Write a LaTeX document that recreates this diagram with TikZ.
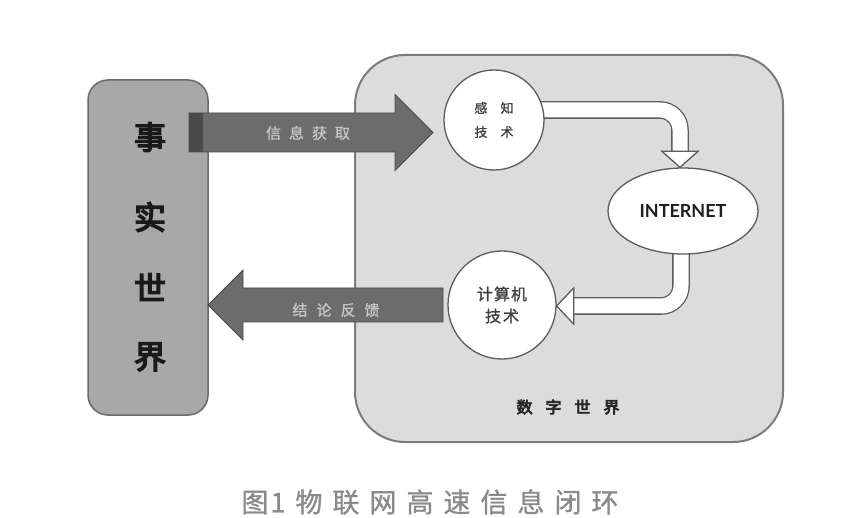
\documentclass[tikz,border=0pt]{standalone}
\usepackage{fontspec}
\usetikzlibrary{calc,backgrounds,shapes.geometric}
\newfontfamily\cjk{Noto Sans CJK SC}
\newfontfamily\cjkbold[FakeBold=2.5]{Noto Sans CJK SC}
\newfontfamily\cjkheavy[FakeBold=4.5]{Noto Sans CJK SC}
\newfontfamily\cjkmed[FakeBold=1]{Noto Sans CJK SC}
\newfontfamily\latin{Lato}

\definecolor{realfill}{HTML}{A8A8A8}
\definecolor{realedge}{HTML}{6A6A6A}
\definecolor{digifill}{HTML}{DCDCDC}
\definecolor{digiedge}{HTML}{7C7C7C}
\definecolor{arrowfill}{HTML}{6C6C6C}
\definecolor{arrowedge}{HTML}{4A4A4A}
\definecolor{arrowtext}{HTML}{C6C6C6}
\definecolor{flowedge}{HTML}{5C5C5C}
\definecolor{captiongray}{HTML}{8A8A8A}

\begin{document}
\begin{tikzpicture}[x=1pt,y=-1pt,
  realbox/.style={draw=realedge, fill=realfill, line width=1.5pt, rounded corners=20pt,
    minimum width=120pt, minimum height=335pt, inner sep=0pt},
  digibox/.style={draw=digiedge, fill=digifill, line width=2pt, rounded corners=50pt,
    minimum width=428pt, minimum height=387pt, inner sep=0pt},
  realchar/.style={font=\cjkheavy\fontsize{32}{32}\selectfont, text=black!90},
  bubble/.style={circle, draw=flowedge, fill=white, line width=1.3pt, inner sep=0pt,
    align=center, text=black!75},
  netnode/.style={ellipse, draw=flowedge, fill=white, line width=1.3pt, inner sep=0pt,
    minimum width=150pt, minimum height=86pt,
    font=\latin\bfseries\fontsize{18}{18}\selectfont, text=black!88},
  blockarrow/.style={fill=arrowfill, draw=arrowedge, line width=0.8pt},
  arrowlabel/.style={font=\cjkmed\fontsize{15}{15}\selectfont, text=arrowtext},
  flowshaft/.style={draw=flowedge, line width=1.3pt, double=white, double distance=15pt,
    rounded corners=20pt},
  flowhead/.style={draw=flowedge, fill=white, line width=1.3pt, line join=miter},
]
\useasboundingbox (0,0) rectangle (864,518);

% physical world column
\node[realbox] (real) at (148,247.5) {};
\node[realchar] (r1) at (150,137) {事};
\node[realchar] (r2) at (150,217) {实};
\node[realchar] (r3) at (150,287) {世};
\node[realchar] (r4) at (150,357) {界};

% nodes of the digital world
\node[bubble, minimum size=100pt, font=\cjkmed\fontsize{13}{24}\selectfont] (sense) at (494,120)
  {感\hspace{13pt}知\\技\hspace{13pt}术};
\node[netnode] (net) at (683,211) {INTERNET};
\node[bubble, minimum size=108pt, font=\cjkmed\fontsize{16}{22}\selectfont] (comp) at (502,305)
  {计\hspace{1pt}算\hspace{1pt}机\\技\hspace{2pt}术};

% information acquisition arrow
\coordinate (inS) at (189,132.5);
\coordinate (inE) at (433,132.5);
\draw[blockarrow] ($(inS)+(0,-19.5)$) -- ($(inE)+(-38,-19.5)$) -- ($(inE)+(-38,-38)$)
  -- (inE) -- ($(inE)+(-38,38)$) -- ($(inE)+(-38,19.5)$) -- ($(inS)+(0,19.5)$) -- cycle;
\fill[arrowedge] ($(inS)+(0,-19.5)$) rectangle ($(inS)+(14,19.5)$);
\node[arrowlabel] (inlbl) at (308,133) {信\hspace{8pt}息\hspace{8pt}获\hspace{8pt}取};

% feedback arrow
\coordinate (outS) at (443,305);
\coordinate (outE) at (208,305);
\draw[blockarrow] ($(outS)+(0,-17)$) -- ($(outE)+(35,-17)$) -- ($(outE)+(35,-35)$)
  -- (outE) -- ($(outE)+(35,35)$) -- ($(outE)+(35,17)$) -- ($(outS)+(0,17)$) -- cycle;
\node[arrowlabel] (outlbl) at (336,310) {结\hspace{9pt}论\hspace{9pt}反\hspace{9pt}馈};

\begin{pgfonlayer}{background}
  \fill[white] (0,0) rectangle (864,518);
  \node[digibox] (digital) at (569,248.5) {};
  \node[font=\cjkheavy\fontsize{16}{16}\selectfont, text=black!85] (digilbl) at (568,407)
    {数\hspace{13pt}字\hspace{13pt}世\hspace{13pt}界};
  % sensing -> internet
  \draw[flowshaft] ($(sense.center)+(0,-10)$) -| ($(net.north)+(-3,-16)$);
  \draw[flowhead] ($(net.north)+(-21,-16)$) -- ($(net.north)+(15,-16)$)
    -- ($(net.north)+(-3,0)$) -- cycle;
  % internet -> computing
  \draw[flowshaft] ($(net.center)+(-2,0)$) |- ($(comp.east)+(17,1)$);
  \draw[flowhead] ($(comp.east)+(17,-17)$) -- ($(comp.east)+(17,19)$)
    -- ($(comp.east)+(0,1)$) -- cycle;
\end{pgfonlayer}

% caption
\node[font=\cjkmed\fontsize{27}{27}\selectfont, text=captiongray] (caption) at (430,502)
  {图\hspace{2pt}1\hspace{10pt}物\hspace{10pt}联\hspace{10pt}网\hspace{10pt}高\hspace{10pt}速\hspace{10pt}信\hspace{10pt}息\hspace{10pt}闭\hspace{10pt}环};
\end{tikzpicture}
\end{document}
